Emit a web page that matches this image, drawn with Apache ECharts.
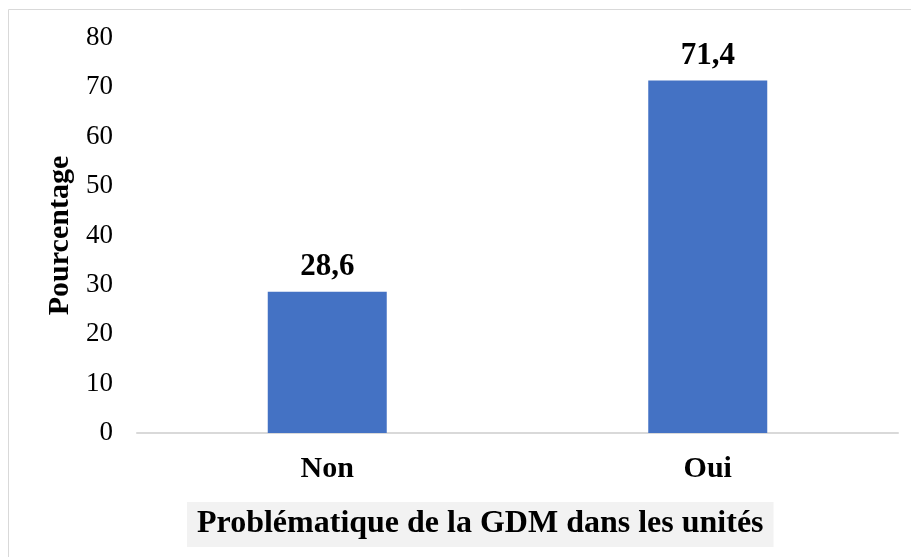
<!DOCTYPE html>
<html>
<head>
<meta charset="utf-8">
<script src="https://cdn.jsdelivr.net/npm/echarts@6/dist/echarts.min.js"></script>
<style>
  html, body { margin: 0; padding: 0; background: #fff; }
  #chart { width: 911px; height: 557px; }
</style>
</head>
<body>
<div id="chart"></div>
<script>
// données du graphique
var categories = ['Non', 'Oui'];
var pourcentages = [28.6, 71.4];
var yTicks = [0, 10, 20, 30, 40, 50, 60, 70, 80];

var serif = '"Liberation Serif", "Times New Roman", serif';

var myChart = echarts.init(document.getElementById('chart'));

var option = {
    animation: false,
    // titre de l'axe X : boîte grise, pas centrée sur la grille dans l'original
    title: {
        text: 'Problématique de la GDM dans les unités',
        left: 187,
        top: 502,
        padding: [6, 10, 7, 10],
        backgroundColor: '#f2f2f2',
        textStyle: {
            fontFamily: serif, fontSize: 32, fontWeight: 'bold', color: '#000'
        }
    },
    grid: { left: 137, right: 13, top: 38, bottom: 124, outerBoundsMode: 'none', containLabel: false },
    // cadre gris clair autour du graphique
    graphic: [{
        type: 'rect',
        shape: { x: 8.5, y: 9.5, width: 920, height: 560 },
        style: { fill: 'none', stroke: '#d9d9d9', lineWidth: 1 },
        silent: true
    }],
    xAxis: {
        type: 'category',
        data: categories,
        axisLine: { show: true, lineStyle: { color: '#d9d9d9', width: 2 } },
        axisTick: { show: false },
        axisLabel: {
            fontFamily: serif, fontSize: 30, fontWeight: 'bold',
            color: '#000', margin: 21
        }
    },
    yAxis: {
        type: 'value',
        min: yTicks[0],
        max: yTicks[yTicks.length - 1],
        interval: 10,
        axisLine: { show: false },
        axisTick: { show: false },
        splitLine: { show: false },
        axisLabel: {
            fontFamily: serif, fontSize: 27, color: '#000', margin: 24
        },
        name: 'Pourcentage',
        nameLocation: 'middle',
        nameGap: 58,
        nameRotate: 90,
        nameTextStyle: {
            fontFamily: serif, fontSize: 30, fontWeight: 'bold', color: '#000'
        }
    },
    series: [{
        type: 'bar',
        data: pourcentages,
        barWidth: 119,
        itemStyle: { color: '#4472c4' },
        label: {
            show: true,
            position: 'top',
            distance: 9,
            fontFamily: serif, fontSize: 31, fontWeight: 'bold', color: '#000',
            formatter: function (p) { return String(p.value).replace('.', ','); }
        }
    }]
};

myChart.setOption(option);
</script>
</body>
</html>
